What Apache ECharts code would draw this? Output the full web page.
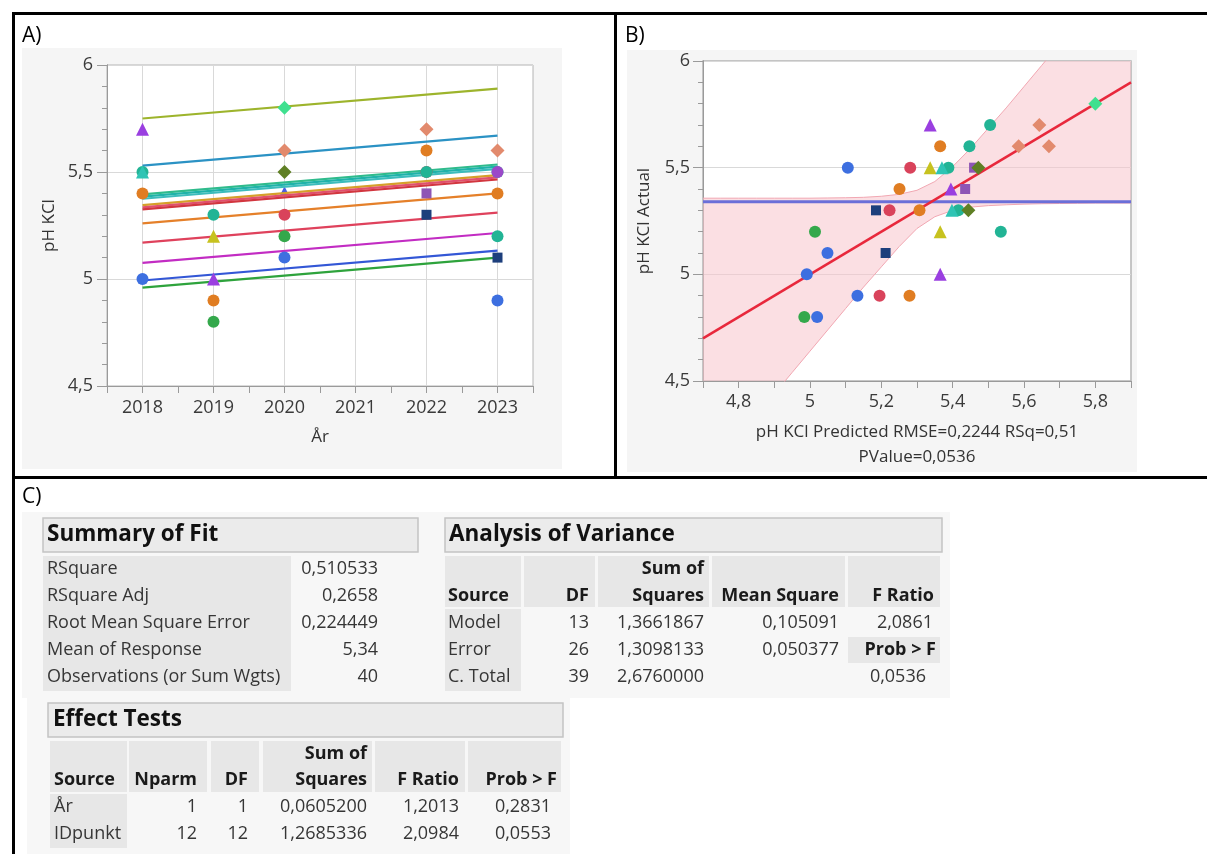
<!DOCTYPE html>
<html><head><meta charset="utf-8">
<script src="https://cdn.jsdelivr.net/npm/echarts@6/dist/echarts.min.js"></script>
<style>html,body{margin:0;padding:0;background:#fff}#c{width:1207px;height:854px}</style>
</head><body><div id="c"></div>
<script>
// ---------------- DATA ----------------
// Panel A: fitted lines (one per IDpunkt), value at 2018 and at 2023
const lineYearsA = [2018, 2023];
const lineStartA = [5.75, 5.53, 5.395, 5.385, 5.375, 5.345, 5.335, 5.325, 5.26, 5.17, 5.075, 4.993, 4.96];
const lineEndA   = [5.89, 5.67, 5.535, 5.525, 5.515, 5.485, 5.475, 5.465, 5.40, 5.31, 5.215, 5.133, 5.10];
// Panel A: observations (year, pH, marker group)
const aYear  = [2018,2018,2018,2018,2018, 2019,2019,2019,2019,2019, 2020,2020,2020,2020,2020,2020,2020, 2022,2022,2022,2022,2022,2022, 2023,2023,2023,2023,2023,2023,2023];
const aPH    = [5.7,5.5,5.5,5.4,5.0,      5.3,5.2,5.0,4.9,4.8,      5.8,5.6,5.5,5.41,5.3,5.2,5.1,          5.7,5.6,5.5,5.5,5.4,5.3,          5.6,5.5,5.5,5.4,5.2,5.1,4.9];
const aGroup = [6,8,4,3,0,                4,7,6,3,2,                13,11,12,14,1,2,0,                      11,3,4,1,10,9,                    11,4,5,3,4,9,0];
// Panel B: predicted vs actual (marker group)
const bPred  = [5.80, 5.337,5.505,5.643, 5.365,5.447,5.585,5.67, 5.106,5.281,5.337,5.37,5.388,5.46,5.472, 5.251,5.395,5.435, 5.185,5.223,5.307,5.398,5.416,5.444, 5.014,5.365,5.535, 5.049,5.212, 4.991,5.365, 5.133,5.195,5.279, 4.984,5.02];
const bAct   = [5.8,  5.7,5.7,5.7,       5.6,5.6,5.6,5.6,        5.5,5.5,5.5,5.5,5.5,5.5,5.5,             5.4,5.4,5.4,         5.3,5.3,5.3,5.3,5.3,5.3,             5.2,5.2,5.2,         5.1,5.1,     5.0,5.0,     4.9,4.9,4.9,         4.8,4.8];
const bGroup = [13,   6,4,11,            3,4,11,11,              0,1,7,8,4,10,12,                          3,6,10,              9,1,3,8,4,12,                        2,7,4,               0,9,         0,6,         0,1,3,               2,0];
// Panel B: fit line, mean line, confidence curves
const fitX = [4.7, 5.9], fitY = [4.7, 5.9];
const meanResponse = 5.34;
const bandX     = [4.70,4.75,4.80,4.85,4.90,4.95,5.00,5.05,5.10,5.15,5.20,5.25,5.30,5.35,5.40,5.45,5.50,5.55,5.60,5.65,5.70,5.75,5.80,5.85,5.90];
const bandLower = [4.04,4.14,4.24,4.34,4.44,4.54,4.64,4.74,4.84,4.94,5.035,5.13,5.215,5.27,5.30,5.315,5.322,5.326,5.329,5.331,5.332,5.333,5.334,5.334,5.334];
const bandUpper = [5.357,5.357,5.357,5.357,5.357,5.357,5.357,5.358,5.359,5.361,5.366,5.375,5.394,5.435,5.505,5.59,5.685,5.78,5.88,5.98,6.08,6.18,6.28,6.38,6.48];
// Tick labels
const yearTicks = [2018, 2019, 2020, 2021, 2022, 2023];
// Tables
const sumLabels = ['RSquare','RSquare Adj','Root Mean Square Error','Mean of Response','Observations (or Sum Wgts)'];
const sumValues = ['0,510533','0,2658','0,224449','5,34','40'];
const anovaCols = ['Source','DF','Sum of|Squares','Mean Square','F Ratio'];
const anovaSource = ['Model','Error','C. Total'];
const anovaDF = ['13','26','39'];
const anovaSS = ['1,3661867','1,3098133','2,6760000'];
const anovaMS = ['0,105091','0,050377',''];
const anovaF  = ['2,0861','Prob > F','0,0536'];
const effCols = ['Source','Nparm','DF','Sum of|Squares','F Ratio','Prob > F'];
const effSource = ['År','IDpunkt'];
const effNparm = ['1','12'];
const effDF = ['1','12'];
const effSS = ['0,0605200','1,2685336'];
const effF = ['1,2013','2,0984'];
const effP = ['0,2831','0,0553'];

// ---------------- STYLES ----------------
const FONT = '"Open Sans","Noto Sans",sans-serif';
const lineColorsA = ['#9db42c','#2b92c4','#2fbb8c','#1fb3a9','#3cbcbc','#d69f2a','#e0506e','#d2363f','#e5802a','#df425c','#c22cc3','#3357d6','#2ea33c'];
const groupSymbol = ['circle','circle','circle','circle','circle','circle','triangle','triangle','triangle','rect','rect','diamond','diamond','diamond','triangle'];
const groupColor  = ['#3d6fe0','#d9435b','#34a84b','#e07d22','#22b495','#9b48c8','#9a3fe0','#c7c21f','#2fc4b4','#1d3f7c','#8e55b5','#e28a6d','#5f7f24','#3fe08f','#4a5ee0'];
const groupSize   = [12,12,12,12,12,12,13,13,13,10,10,14,14,14,10];

const comma = v => String(Math.round(v * 100) / 100).replace('.', ',');
const axisGray = '#9a9a9a';
const labelStyle = {color: '#3a3a3a', fontFamily: FONT, fontSize: 18};
const nameStyle = {color: '#333', fontFamily: FONT, fontSize: 17};

const series = [];
// Panel A lines
lineStartA.forEach((v, i) => {
  series.push({type: 'line', xAxisIndex: 0, yAxisIndex: 0, symbol: 'none', silent: true, z: 3,
    lineStyle: {color: lineColorsA[i], width: 2.2},
    data: [[lineYearsA[0], v], [lineYearsA[1], lineEndA[i]]]});
});
// Panel A points
groupColor.forEach((c, gi) => {
  const d = [];
  aYear.forEach((y, k) => { if (aGroup[k] === gi) d.push([y, aPH[k]]); });
  if (d.length) series.push({type: 'scatter', xAxisIndex: 0, yAxisIndex: 0, symbol: groupSymbol[gi],
    symbolSize: groupSize[gi], itemStyle: {color: c, opacity: 1}, z: gi === 14 ? 2 : 4, data: d});
});
// Panel B band fill
series.push({type: 'custom', xAxisIndex: 1, yAxisIndex: 2, clip: true, z: 1, silent: true,
  data: bandX.map((x, i) => [x, bandLower[i], bandUpper[i]]),
  renderItem: (params, api) => {
    if (params.dataIndex !== 0) return null;
    const pts = [];
    bandX.forEach((x, i) => pts.push(api.coord([x, bandUpper[i]])));
    for (let i = bandX.length - 1; i >= 0; i--) pts.push(api.coord([bandX[i], bandLower[i]]));
    return {type: 'polygon', shape: {points: pts}, style: {fill: 'rgba(247,196,204,0.55)'}};
  }});
series.push({type: 'line', xAxisIndex: 1, yAxisIndex: 2, symbol: 'none', z: 2, silent: true,
  lineStyle: {color: '#f1a7b2', width: 1}, data: bandX.map((x, i) => [x, bandLower[i]])});
series.push({type: 'line', xAxisIndex: 1, yAxisIndex: 2, symbol: 'none', z: 2, silent: true,
  lineStyle: {color: '#f1a7b2', width: 1}, data: bandX.map((x, i) => [x, bandUpper[i]])});
series.push({type: 'line', xAxisIndex: 1, yAxisIndex: 2, symbol: 'none', z: 3, silent: true,
  lineStyle: {color: '#6b6fd8', width: 3}, data: [[fitX[0], meanResponse], [fitX[1], meanResponse]]});
series.push({type: 'line', xAxisIndex: 1, yAxisIndex: 2, symbol: 'none', z: 3, silent: true,
  lineStyle: {color: '#e8283c', width: 2.5}, data: [[fitX[0], fitY[0]], [fitX[1], fitY[1]]]});
groupColor.forEach((c, gi) => {
  const d = [];
  bPred.forEach((x, k) => { if (bGroup[k] === gi) d.push([x, bAct[k]]); });
  if (d.length) series.push({type: 'scatter', xAxisIndex: 1, yAxisIndex: 2, symbol: groupSymbol[gi],
    symbolSize: groupSize[gi], itemStyle: {color: c, opacity: 1}, z: 5, data: d});
});

// ---------------- GRAPHICS (frame, panels, tables) ----------------
const G = [];
const rect = (x, y, w, h, fill, stroke, z) => G.push({type: 'rect', z: z == null ? -10 : z, silent: true,
  shape: {x, y, width: w, height: h}, style: {fill, stroke: stroke || null, lineWidth: stroke ? 1.5 : 0}});
const hline = (x1, y1, x2, y2, w) => G.push({type: 'line', z: 60, silent: true, shape: {x1, y1, x2, y2}, style: {stroke: '#000', lineWidth: w}});
const text = (s, x, y, o) => {
  o = o || {};
  const a = o.align || 'left';
  G.push({type: 'text', z: 100, silent: true, x, y, style: {text: s,
    font: (o.bold ? 'bold ' : '') + (o.size || 18) + 'px ' + FONT, fill: o.color || '#363636',
    align: a, textAlign: a, verticalAlign: 'middle', textVerticalAlign: 'middle'}});
};
// panel backgrounds
rect(22, 48, 540, 421, '#f5f5f5');
rect(627, 50, 510, 422, '#f5f5f5');
rect(22, 512, 928, 186, '#f7f7f7');
rect(27, 698, 543, 156, '#f7f7f7');
// frame
hline(12, 13.5, 1207, 13.5, 3);
hline(13.5, 12, 13.5, 854, 3);
hline(615.5, 12, 615.5, 478, 3);
hline(12, 477.5, 1207, 477.5, 3);
// panel labels
text('A)', 22, 36, {size: 21, color: '#000'});
text('B)', 625, 36, {size: 21, color: '#000'});
text('C)', 22, 497, {size: 21, color: '#000'});

const hdrFill = '#ebebeb', hdrStroke = '#c4c4c4', colFill = '#e7e7e7';
// Summary of Fit
rect(43, 518, 375, 34, hdrFill, hdrStroke, -5);
text('Summary of Fit', 47, 535, {bold: true, size: 22.5, color: '#111'});
rect(43, 556, 248, 135, colFill, null, -5);
const sumRowY = [569, 596, 623, 650, 677];
sumLabels.forEach((s, i) => { text(s, 47, sumRowY[i]); text(sumValues[i], 378, sumRowY[i], {align: 'right'}); });
// Analysis of Variance
rect(445, 518, 497, 34, hdrFill, hdrStroke, -5);
text('Analysis of Variance', 449, 535, {bold: true, size: 22.5, color: '#111'});
const aCellX = [445, 524, 598, 712, 848], aCellW = [76, 71, 111, 133, 92];
aCellX.forEach((x, i) => rect(x, 556, aCellW[i], 51, colFill, null, -5));
rect(445, 609, 76, 82, colFill, null, -5);
rect(848, 637, 92, 26, colFill, null, -5);
const aRight = [null, 589, 704, 839, 934];
anovaCols.forEach((s, i) => {
  const parts = s.split('|');
  const o = {bold: true, color: '#1a1a1a', align: i === 0 ? 'left' : 'right'};
  const x = i === 0 ? 448 : aRight[i];
  if (parts.length === 2) { text(parts[0], x, 569, o); text(parts[1], x, 596, o); }
  else text(s, x, 596, o);
});
const aRowY = [623, 650, 677];
anovaSource.forEach((s, i) => {
  text(s, 448, aRowY[i]);
  text(anovaDF[i], aRight[1], aRowY[i], {align: 'right'});
  text(anovaSS[i], aRight[2], aRowY[i], {align: 'right'});
  if (anovaMS[i]) text(anovaMS[i], aRight[3], aRowY[i], {align: 'right'});
  if (i === 1) text(anovaF[i], 936, aRowY[i], {align: 'right', bold: true, color: '#1a1a1a'});
  else text(anovaF[i], i === 2 ? 926 : 933, aRowY[i], {align: 'right'});
});
// Effect Tests
rect(48, 703, 515, 34, hdrFill, hdrStroke, -5);
text('Effect Tests', 53, 720, {bold: true, size: 22.5, color: '#111'});
const eCellX = [50, 129, 211, 263, 375, 468], eCellW = [77, 78, 48, 109, 90, 93];
eCellX.forEach((x, i) => rect(x, 741, eCellW[i], 51, colFill, null, -5));
rect(50, 794, 77, 54, colFill, null, -5);
const eRight = [null, 197, 248, 367, 459, 557];
effCols.forEach((s, i) => {
  const parts = s.split('|');
  const o = {bold: true, color: '#1a1a1a', align: i === 0 ? 'left' : 'right'};
  const x = i === 0 ? 54 : eRight[i];
  if (parts.length === 2) { text(parts[0], x, 754, o); text(parts[1], x, 780, o); }
  else text(s, x, 780, o);
});
const eRowY = [807, 834];
effSource.forEach((s, i) => {
  text(s, 54, eRowY[i]);
  text(effNparm[i], eRight[1], eRowY[i], {align: 'right'});
  text(effDF[i], eRight[2], eRowY[i], {align: 'right'});
  text(effSS[i], eRight[3], eRowY[i], {align: 'right'});
  text(effF[i], eRight[4], eRowY[i], {align: 'right'});
  text(effP[i], 551, eRowY[i], {align: 'right'});
});

// ---------------- AXES ----------------
const baseAxis = {axisLine: {show: true, onZero: false, lineStyle: {color: axisGray}},
  axisTick: {show: true, length: 5, lineStyle: {color: axisGray}}};
const option = {
  backgroundColor: '#ffffff',
  animation: false,
  grid: [
    {left: 107, top: 65, width: 426, height: 321, show: true, backgroundColor: '#fff', borderColor: '#b4b4b4', borderWidth: 1},
    {left: 703, top: 61, width: 428, height: 320, show: true, backgroundColor: '#fff', borderColor: '#b4b4b4', borderWidth: 1.5}
  ],
  xAxis: [
    Object.assign({}, baseAxis, {type: 'value', gridIndex: 0, min: 2017.5, max: 2023.5, interval: 0.5,
      axisTick: {show: true, length: 7, lineStyle: {color: axisGray}},
      axisLabel: Object.assign({}, labelStyle, {margin: 13, showMinLabel: true, showMaxLabel: true,
        formatter: v => yearTicks.indexOf(Math.round(v * 10) / 10) >= 0 ? String(Math.round(v)) : ''}),
      splitLine: {show: true, lineStyle: {color: ['rgba(0,0,0,0)', '#d9d9d9'], width: 1}},
      name: 'År', nameLocation: 'middle', nameGap: 41, nameTextStyle: Object.assign({}, nameStyle, {lineHeight: 20})}),
    Object.assign({}, baseAxis, {type: 'value', gridIndex: 1, min: 4.7, max: 5.9, interval: 0.1,
      axisTick: {show: true, length: 7, lineStyle: {color: axisGray}},
      axisLabel: Object.assign({}, labelStyle, {margin: 12, showMinLabel: true, showMaxLabel: true,
        formatter: v => { const k = Math.round(v * 10); return k % 2 === 0 ? comma(k / 10) : ''; }}),
      splitLine: {show: false},
      name: 'pH KCl Predicted RMSE=0,2244 RSq=0,51\nPValue=0,0536', nameLocation: 'middle', nameGap: 39,
      nameTextStyle: Object.assign({}, nameStyle, {lineHeight: 25})})
  ],
  yAxis: [
    Object.assign({}, baseAxis, {type: 'value', gridIndex: 0, min: 4.5, max: 6, interval: 0.1,
      axisLabel: {show: false}, splitLine: {show: false}}),
    Object.assign({}, baseAxis, {type: 'value', gridIndex: 0, min: 4.5, max: 6, interval: 0.5, position: 'left',
      axisTick: {show: true, length: 10, lineStyle: {color: axisGray}},
      axisLabel: Object.assign({}, labelStyle, {margin: 14, formatter: v => comma(v)}),
      splitLine: {show: true, lineStyle: {color: '#d9d9d9', width: 1}},
      name: 'pH KCl', nameLocation: 'middle', nameGap: 49, nameTextStyle: nameStyle}),
    Object.assign({}, baseAxis, {type: 'value', gridIndex: 1, min: 4.5, max: 6, interval: 0.1,
      axisLabel: {show: false}, splitLine: {show: false}}),
    Object.assign({}, baseAxis, {type: 'value', gridIndex: 1, min: 4.5, max: 6, interval: 0.5, position: 'left',
      axisTick: {show: true, length: 10, lineStyle: {color: axisGray}},
      axisLabel: Object.assign({}, labelStyle, {margin: 13, formatter: v => comma(v)}),
      splitLine: {show: true, lineStyle: {color: '#d9d9d9', width: 1}},
      name: 'pH KCl Actual', nameLocation: 'middle', nameGap: 50, nameTextStyle: nameStyle})
  ],
  graphic: {elements: G},
  series: series
};
const chart = echarts.init(document.getElementById('c'));
chart.setOption(option);
</script></body></html>
